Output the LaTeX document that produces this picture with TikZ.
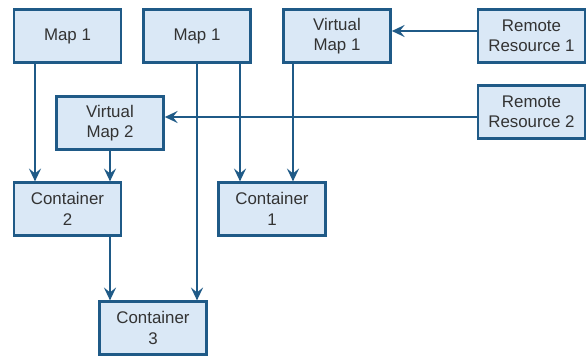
\documentclass[tikz,border=0pt]{standalone}
\usepackage{fontspec}
\setmainfont{Liberation Sans}
\usetikzlibrary{arrows.meta}

\definecolor{boxline}{HTML}{1F5A87}
\definecolor{boxfill}{HTML}{DAE8F6}

\begin{document}
\begin{tikzpicture}[x=0.025cm, y=-0.025cm,
    box/.style={draw=boxline, fill=boxfill, line width=0.06cm, align=center,
      minimum width=2.68cm, minimum height=1.32cm, inner sep=0pt,
      font=\fontsize{12pt}{14.4pt}\selectfont, text=black!80},
    link/.style={draw=boxline, line width=0.055cm,
      -{Stealth[length=3.2mm, width=3mm, inset=1.2mm]}}]
    \useasboundingbox (0, 0) rectangle (586, 356);

    % lanes for the connectors
    \coordinate (l1) at (35, 0);
    \coordinate (l2) at (110, 0);
    \coordinate (l3) at (197, 0);
    \coordinate (l4) at (240, 0);
    \coordinate (l5) at (293, 0);
    \coordinate (h1) at (0, 31);
    \coordinate (h2) at (0, 117);

    \node [box] (mapA) at (67.5, 36) {Map 1};
    \node [box] (mapB) at (197, 36) {Map 1};
    \node [box] (vmapA) at (337, 36) {Virtual\\Map 1};
    \node [box] (rresA) at (531.5, 36) {Remote\\Resource 1};
    \node [box] (rresB) at (531.5, 112) {Remote\\Resource 2};
    \node [box] (vmapB) at (110, 123) {Virtual\\Map 2};
    \node [box] (contB) at (67.5, 209) {Container\\2};
    \node [box] (contA) at (272, 209) {Container\\1};
    \node [box] (contC) at (153, 328) {Container\\3};

    \draw [link] (rresA.west |- h1) -- (vmapA.east |- h1);
    \draw [link] (rresB.west |- h2) -- (vmapB.east |- h2);

    \draw [link] (mapA.south -| l1) -- (contB.north -| l1);
    \draw [link] (vmapB.south -| l2) -- (contB.north -| l2);
    \draw [link] (mapB.south -| l3) -- (contC.north -| l3);
    \draw [link] (mapB.south -| l4) -- (contA.north -| l4);
    \draw [link] (vmapA.south -| l5) -- (contA.north -| l5);
    \draw [link] (contB.south -| l2) -- (contC.north -| l2);
  \end{tikzpicture}
\end{document}
